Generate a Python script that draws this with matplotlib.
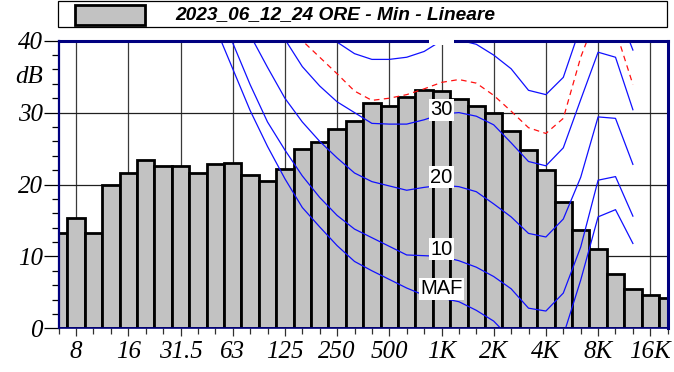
import matplotlib
matplotlib.use("Agg")
import matplotlib.pyplot as plt
from matplotlib.patches import Rectangle
from matplotlib.ticker import FixedLocator, NullFormatter, FixedFormatter
import matplotlib.transforms as mtransforms
import numpy as np

# ---------------- data ----------------
bands = ["6.3", "8", "10", "12.5", "16", "20", "25", "31.5", "40", "50", "63", "80",
         "100", "125", "160", "200", "250", "315", "400", "500", "630", "800", "1K",
         "1.25K", "1.6K", "2K", "2.5K", "3.15K", "4K", "5K", "6.3K", "8K", "10K",
         "12.5K", "16K", "20K"]
levels = [13.3, 15.3, 13.3, 20.0, 21.6, 23.4, 22.6, 22.6, 21.6, 22.9, 23.0, 21.3,
          20.5, 22.2, 25.0, 25.9, 27.7, 28.9, 31.4, 30.9, 32.2, 33.1, 33.0,
          31.9, 30.9, 29.9, 27.5, 24.8, 22.0, 17.5, 13.7, 11.0, 7.55,
          5.5, 4.7, 4.2]
tick_labels = ["8", "16", "31.5", "63", "125", "250", "500", "1K", "2K", "4K", "8K", "16K"]
y_ticks = [0, 10, 20, 30, 40]

# equal-loudness style contours, bands 40 Hz .. 12.5 kHz
curve_bands = bands[8:34]
maf = [48, 41.9, 36.1, 30.3, 25.3, 20.8, 16.8, 14.1, 11.5, 9.3, 8.0, 6.8, 5.6, 4.6,
       4.2, 3.7, 2.5, 1.0, -1.5, -4.0, -4.5, -1.0, 6.7, 15.5, 16.5, 11.8]
c10 = [51, 44.9, 39.7, 33.9, 28.7, 24.8, 21.2, 18.2, 15.7, 13.8, 12.6, 11.4, 10.2, 10.1,
       10.0, 9.4, 8.5, 7.2, 5.5, 2.8, 2.4, 4.9, 11.3, 20.6, 21.1, 15.6]
c20 = [56, 51, 46, 40.8, 36.3, 32.0, 28.7, 26.0, 23.7, 21.6, 20.4, 19.8, 19.2, 19.6,
       19.9, 19.7, 19.0, 17.3, 15.5, 13.2, 12.7, 15.2, 21.0, 29.4, 29.2, 22.8]
c30 = [64, 59, 54, 49, 44.5, 40.2, 36.4, 33.7, 31.5, 30.0, 28.5, 28.4, 28.4, 29.0,
       29.8, 30.0, 29.5, 28.3, 25.8, 23.2, 22.6, 25.1, 31.8, 38.4, 37.7, 30.4]
c40 = [72, 67, 62, 58, 55, 51, 47, 43, 39.8, 38.2, 37.4, 37.4, 37.7, 38.5,
       40.0, 40.1, 39.5, 38.0, 36.1, 33.1, 32.5, 34.9, 42.0, 49.0, 45.0, 38.7]
red_curve = [60, 55, 51, 48, 45.5, 42.5, 40.0, 37.7, 35.4, 33.0, 31.7, 32.0, 32.5, 33.3,
             34.2, 34.6, 34.1, 32.4, 30.2, 27.9, 27.1, 29.2, 37.7, 44.0, 41.5, 33.9]
curve_labels = ["MAF", "10", "20", "30", "40"]
curve_label_y = [5.5, 11.0, 21.0, 30.4, 41.0]
legend_text = "2023_06_12_24 ORE - Min - Lineare"

# ---------------- figure ----------------
W, H = 674, 372
fig = plt.figure(figsize=(W / 100, H / 100), dpi=100)
fig.patch.set_facecolor("white")
ax_l, ax_r, ax_t, ax_b = 58.7, 667.7, 40.7, 328.3
ax = fig.add_axes([ax_l / W, 1 - ax_b / H, (ax_r - ax_l) / W, (ax_b - ax_t) / H])

idx = np.arange(len(bands))
centers = 1000.0 * 2.0 ** ((idx - bands.index("1K")) / 3.0)
lefts = centers * 2 ** (-1 / 6)
widths = centers * (2 ** (1 / 6) - 2 ** (-1 / 6))

ax.set_xscale("log")
ax.set_xlim(centers[0], centers[-1])
ax.set_ylim(0, 40)

# grid
tick_pos = [centers[bands.index(t)] for t in tick_labels]
for xp in tick_pos:
    ax.axvline(xp, color="#3a3a3a", lw=0.9, zorder=0.5)
for yv in [10, 20, 30]:
    ax.axhline(yv, color="#202020", lw=0.9, zorder=0.5)

# bars
ax.bar(lefts, levels, width=widths, align="edge", facecolor="#c2c2c2",
       edgecolor="black", linewidth=2.0, zorder=2)

# curves
cx = centers[8:34]
for vals in [maf, c10, c20, c30, c40]:
    ax.plot(cx, vals, color="#1010ff", lw=0.9, zorder=3)
ax.plot(cx, red_curve, color="#ff1010", lw=0.9, dashes=(4.5, 3.5), zorder=3)

# curve labels
clip_rect = Rectangle((0, 0), 1, 1.006, transform=ax.transAxes, visible=False)
ax.add_artist(clip_rect)
for lab, yv in zip(curve_labels, curve_label_y):
    t = ax.text(1000.0, yv, lab, ha="center", va="center", fontsize=14.5,
                family="Liberation Sans", color="black", zorder=6,
                bbox=dict(boxstyle="square,pad=0.08", facecolor="white", edgecolor="none"))
    t.set_clip_on(True)
    t.set_clip_path(clip_rect)

# ticks
serif = dict(family="Liberation Serif", style="italic", size=18)
ax.xaxis.set_major_locator(FixedLocator(tick_pos))
ax.xaxis.set_major_formatter(FixedFormatter(tick_labels))
minor_pos = [c for c, b in zip(centers, bands) if b not in tick_labels]
ax.xaxis.set_minor_locator(FixedLocator(minor_pos))
ax.xaxis.set_minor_formatter(NullFormatter())
ax.set_yticks(y_ticks)
ax.set_yticklabels([str(v) for v in y_ticks])
ax.yaxis.set_minor_locator(FixedLocator([v for v in range(0, 41, 2) if v % 10]))
ax.tick_params(axis="x", which="major", length=6, width=0.9, color="#303030", pad=3)
ax.tick_params(axis="x", which="minor", length=4.5, width=0.9, color="#303030")
ax.tick_params(axis="y", which="major", length=11, width=0.9, color="black", pad=0.5)
ax.tick_params(axis="y", which="minor", length=5, width=0.9, color="black")
for lbl in ax.get_xticklabels() + ax.get_yticklabels():
    lbl.set_fontfamily("Liberation Serif")
    lbl.set_fontstyle("italic")
    lbl.set_fontsize(18)

# dB unit label
trans = mtransforms.blended_transform_factory(ax.transAxes, ax.transData)
ax.text(-(15.4 + 0.5) / (ax_r - ax_l), 35, "dB", transform=trans, ha="right",
        va="center", **serif)

# spines
for s, lw in [("top", 2.2), ("right", 2.2), ("left", 1.6), ("bottom", 1.2)]:
    ax.spines[s].set_color("#000080")
    ax.spines[s].set_linewidth(lw)
    ax.spines[s].set_zorder(5)

# legend box
fig.patches.append(Rectangle((58 / W, 1 - 27 / H), 609 / W, 26 / H, transform=fig.transFigure,
                             facecolor="white", edgecolor="black", lw=0.9))
fig.patches.append(Rectangle((75 / W, 1 - 24.5 / H), 70 / W, 19.5 / H, transform=fig.transFigure,
                             facecolor="#c2c2c2", edgecolor="black", lw=2.0))
fig.text(175 / W, 1 - 14.5 / H, legend_text, ha="left", va="center", fontsize=13.8,
         family="Liberation Sans", weight="bold", style="italic")

fig.savefig("out.png", dpi=100)
